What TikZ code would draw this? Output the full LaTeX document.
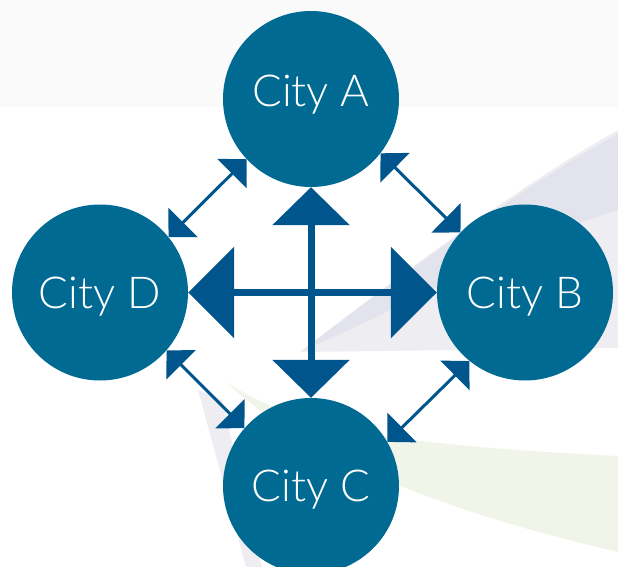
\documentclass[tikz,border=0pt]{standalone}
\usepackage{fontspec}
\setmainfont{Lato}[UprightFont=* Light]
\usetikzlibrary{arrows.meta}
\definecolor{cityblue}{RGB}{0,106,146}
\definecolor{arrowblue}{RGB}{0,85,140}
\definecolor{swooshgray}{RGB}{226,227,236}
\definecolor{swooshpale}{RGB}{238,238,242}
\definecolor{swooshgreen}{RGB}{241,245,233}

\begin{document}
\begin{tikzpicture}[x=1pt,y=-1pt,
  city/.style={circle,fill=cityblue,text=white,minimum size=176pt,inner sep=0pt,
    font=\fontsize{44}{44}\selectfont,text depth=0pt},
  crossh/.style={arrowblue,line width=7pt,
    {Triangle[length=46pt,width=90pt]}-{Triangle[length=46pt,width=90pt]}},
  crossv/.style={arrowblue,line width=7pt,
    {Triangle[length=38pt,width=76pt]}-{Triangle[length=38pt,width=76pt]}},
  link/.style={arrowblue,line width=3pt,
    {Triangle[length=20.5pt,width=41pt]}-{Triangle[length=20.5pt,width=41pt]}}]
  \useasboundingbox (0,0) rectangle (618,567);
  \clip (0,0) rectangle (618,567);
  % faint background swooshes
  \fill[black!2] (0,0) rectangle (618,107);
  \fill[swooshpale] (618,130) .. controls (520,185) and (400,275) .. (300,352)
    -- (618,348) -- cycle;
  \fill[swooshgray] (618,134) .. controls (520,188) and (400,276) .. (302,351)
    .. controls (420,300) and (520,240) .. (618,210) -- cycle;
  \fill[swooshgreen] (226,382) .. controls (300,430) and (400,445) .. (618,456)
    -- (618,552) .. controls (480,520) and (320,470) .. (226,382) -- cycle;
  \fill[swooshpale] (198,390) -- (222,400) -- (262,567) -- (246,567) -- cycle;
  % cities
  \node[city,text depth=16pt] (A) at (311,99) {City A};
  \node[city] (B) at (525,292.5) {City B};
  \node[city] (C) at (311,486) {City C};
  \node[city] (D) at (100,292.5) {City D};
  % central cross
  \draw[crossh] (D.east) -- (B.west);
  \draw[crossv] (A.south) -- (C.north);
  % links round the ring
  \draw[link] (D.39) -- (A.223);
  \draw[link] (A.322) -- (B.137);
  \draw[link] (D.319) -- (C.139);
  \draw[link] (C.30) -- (B.231);
\end{tikzpicture}
\end{document}
